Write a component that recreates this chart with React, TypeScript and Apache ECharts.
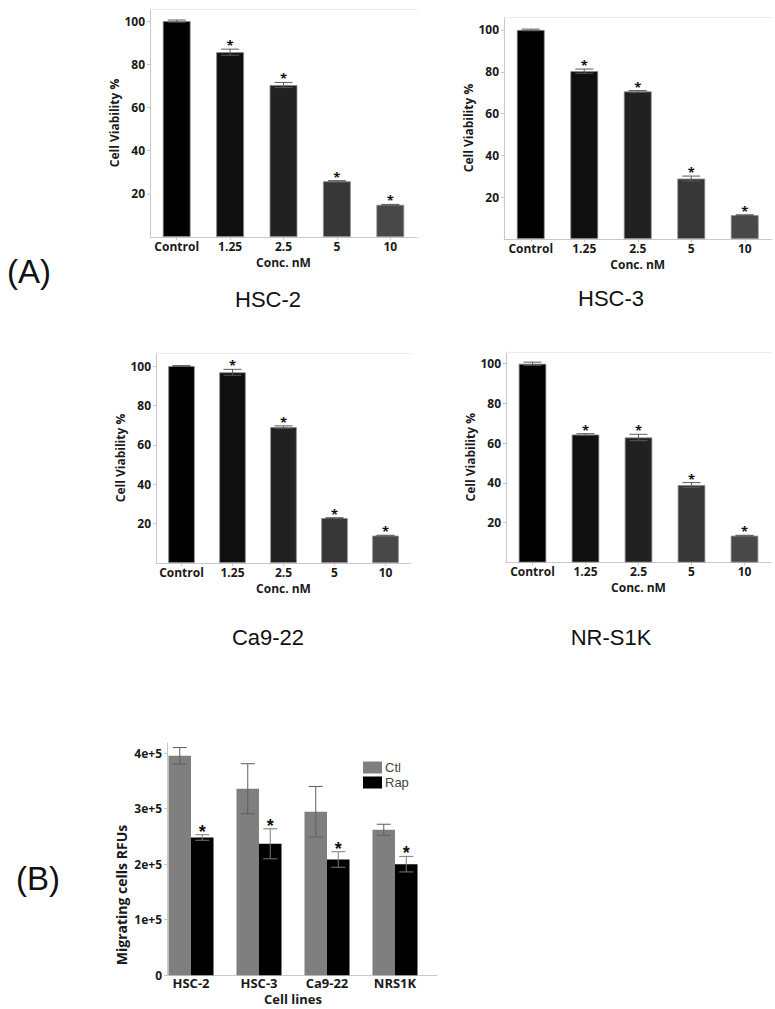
import React, { useEffect, useRef } from 'react';
import * as echarts from 'echarts';

// ---------- data ----------
const concLabels = ['Control', '1.25', '2.5', '5', '10'];
const viabilityTicks = [20, 40, 60, 80, 100];
const barShades = ['#000000', '#0f0f0f', '#212121', '#363636', '#484848'];
const significant = [false, true, true, true, true];

const hsc2Values = [100, 85.6, 70.4, 25.8, 14.9];
const hsc2Errors = [0.5, 1.4, 1.2, 0.3, 0.2];
const hsc3Values = [100, 80.3, 70.6, 28.9, 11.4];
const hsc3Errors = [0.4, 1.0, 0.4, 1.2, 0.2];
const ca922Values = [100, 96.8, 69.0, 22.8, 13.9];
const ca922Errors = [0.2, 1.5, 0.6, 0.2, 0.2];
const nrs1kValues = [100, 64.4, 62.9, 39.0, 13.5];
const nrs1kErrors = [0.8, 0.4, 1.6, 1.2, 0.2];

const cellLines = ['HSC-2', 'HSC-3', 'Ca9-22', 'NRS1K'];
const ctlValues = [395000, 335700, 294300, 261800];
const ctlErrors = [14800, 45000, 45500, 10000];
const rapValues = [248000, 236600, 208400, 200000];
const rapErrors = [5000, 27000, 14000, 14000];
const rapSignificant = [true, true, true, true];
const migTicks = [0, 100000, 200000, 300000, 400000];
const migTickLabels = ['0', '1e+5', '2e+5', '3e+5', '4e+5'];

// ---------- layout ----------
const panels = [
  { title: 'HSC-2', values: hsc2Values, errors: hsc2Errors, left: 150, top: 9, width: 267, height: 228, max: 105.6, tx: 268, ty: 299 },
  { title: 'HSC-3', values: hsc3Values, errors: hsc3Errors, left: 504, top: 17, width: 267.5, height: 222, max: 106.2, tx: 611, ty: 298 },
  { title: 'Ca9-22', values: ca922Values, errors: ca922Errors, left: 156, top: 353, width: 255, height: 210, max: 106.6, tx: 268, ty: 637 },
  { title: 'NR-S1K', values: nrs1kValues, errors: nrs1kErrors, left: 506, top: 352, width: 265, height: 210.5, max: 105.9, tx: 611, ty: 637 },
];

const BOLD = 'Open Sans';
const AXIS_COLOR = '#c8c8c8';
const TEXT_COLOR = '#1a1a1a';

function errorRenderer(offset: number, cap: number, color: string, starSize: number, starGap: number) {
  return (params: any, api: any) => {
    const x = api.value(0);
    const v = api.value(1);
    const e = api.value(2);
    const sig = api.value(3);
    const top = api.coord([x, v + e]);
    const bot = api.coord([x, v - e]);
    const cx = top[0] + offset;
    const children: any[] = [
      { type: 'line', shape: { x1: cx, y1: top[1], x2: cx, y2: bot[1] }, style: { stroke: color, lineWidth: 1 } },
      { type: 'line', shape: { x1: cx - cap, y1: top[1], x2: cx + cap, y2: top[1] }, style: { stroke: color, lineWidth: 1 } },
      { type: 'line', shape: { x1: cx - cap, y1: bot[1], x2: cx + cap, y2: bot[1] }, style: { stroke: color, lineWidth: 1 } },
    ];
    if (sig) {
      children.push({
        type: 'text',
        x: cx,
        y: top[1] - starGap,
        style: {
          text: '*',
          fill: '#111',
          font: `bold ${starSize}px ${starSize > 14 ? 'Liberation Sans' : BOLD}`,
          textAlign: 'center',
          textVerticalAlign: 'middle',
        },
      });
    }
    return { type: 'group', children };
  };
}

function buildOption() {
  const grid: any[] = [];
  const xAxis: any[] = [];
  const yAxis: any[] = [];
  const series: any[] = [];
  const graphic: any[] = [];

  panels.forEach((p, i) => {
    grid.push({ left: p.left, top: p.top, width: p.width, height: p.height, containLabel: false });
    xAxis.push({
      type: 'category',
      gridIndex: i,
      data: concLabels,
      name: 'Conc. nM',
      nameLocation: 'middle',
      nameGap: 19,
      nameTextStyle: { fontFamily: BOLD, fontWeight: 'bold', fontSize: 12, color: TEXT_COLOR, lineHeight: 12 },
      axisLine: { show: true, lineStyle: { color: AXIS_COLOR, width: 1 } },
      axisTick: { show: true, alignWithLabel: true, length: 3, lineStyle: { color: AXIS_COLOR } },
      axisLabel: { interval: 0, margin: 3, fontFamily: BOLD, fontWeight: 'bold', fontSize: 12, color: TEXT_COLOR, lineHeight: 12 },
      splitLine: { show: false },
    });
    xAxis.push({
      type: 'category',
      gridIndex: i,
      position: 'top',
      data: concLabels,
      axisLine: { show: true, lineStyle: { color: '#ececec', width: 1 } },
      axisTick: { show: false },
      axisLabel: { show: false },
      splitLine: { show: false },
    });
    yAxis.push({
      type: 'value',
      gridIndex: i,
      min: 0,
      max: p.max,
      name: 'Cell Viability %',
      nameLocation: 'middle',
      nameGap: 28,
      nameTextStyle: { fontFamily: BOLD, fontWeight: 'bold', fontSize: 12, color: TEXT_COLOR },
      axisLine: { show: true, lineStyle: { color: AXIS_COLOR, width: 1 } },
      axisTick: { show: true, length: 3, customValues: viabilityTicks, lineStyle: { color: AXIS_COLOR } },
      axisLabel: { margin: 5, customValues: viabilityTicks, fontFamily: BOLD, fontWeight: 'bold', fontSize: 12, color: TEXT_COLOR },
      splitLine: { show: false },
    });
    series.push({
      type: 'bar',
      xAxisIndex: 2 * i,
      yAxisIndex: i,
      barWidth: '52%',
      data: p.values.map((v, k) => ({
        value: v,
        itemStyle: { color: barShades[k], borderColor: '#8c8c8c', borderWidth: 0.8 },
      })),
      z: 2,
    });
    series.push({
      type: 'custom',
      xAxisIndex: 2 * i,
      yAxisIndex: i,
      renderItem: errorRenderer(0, 9, '#5a5a5a', 13, 4),
      data: p.values.map((v, k) => [k, v, p.errors[k], significant[k] ? 1 : 0]),
      z: 5,
    });
    graphic.push({
      type: 'text',
      x: p.tx,
      y: p.ty,
      style: {
        text: p.title,
        font: '22px "Liberation Sans", Arial, sans-serif',
        fill: '#111',
        textAlign: 'center',
        textVerticalAlign: 'middle',
      },
    });
  });

  // ----- panel B -----
  const bTop = 743;
  const bHeight = 232.3;
  const bMax = 418000;
  grid.push({ left: 157, top: bTop, width: 272, height: bHeight });
  grid.push({ left: 167, top: bTop, width: 270, height: bHeight });
  xAxis.push({
    type: 'category',
    gridIndex: 4,
    data: cellLines,
    name: 'Cell lines',
    nameLocation: 'middle',
    nameGap: 17,
    nameTextStyle: { fontFamily: BOLD, fontWeight: 'bold', fontSize: 13, color: TEXT_COLOR, lineHeight: 13 },
    axisLine: { show: false },
    axisTick: { show: false },
    axisLabel: { interval: 0, margin: 1, fontFamily: BOLD, fontWeight: 'bold', fontSize: 13, color: TEXT_COLOR, lineHeight: 13 },
    splitLine: { show: false },
  });
  xAxis.push({
    type: 'value',
    gridIndex: 5,
    min: 0,
    max: 1,
    axisLine: { show: true, lineStyle: { color: AXIS_COLOR, width: 1 } },
    axisTick: { show: false },
    axisLabel: { show: false },
    splitLine: { show: false },
  });
  yAxis.push({
    type: 'value',
    gridIndex: 4,
    min: 0,
    max: bMax,
    show: false,
    splitLine: { show: false },
  });
  yAxis.push({
    type: 'value',
    gridIndex: 5,
    min: 0,
    max: bMax,
    axisLine: { show: true, lineStyle: { color: AXIS_COLOR, width: 1 } },
    axisTick: { show: true, length: 3, customValues: migTicks, lineStyle: { color: AXIS_COLOR } },
    axisLabel: {
      margin: 5,
      customValues: migTicks,
      formatter: (v: number) => migTickLabels[migTicks.indexOf(v)] ?? '',
      fontFamily: BOLD,
      fontWeight: 'bold',
      fontSize: 12,
      color: TEXT_COLOR,
    },
    splitLine: { show: false },
  });
  series.push({
    name: 'Ctl',
    type: 'bar',
    xAxisIndex: 8,
    yAxisIndex: 4,
    barWidth: 22.5,
    barGap: '0%',
    itemStyle: { color: '#7f7f7f' },
    data: ctlValues,
    z: 2,
  });
  series.push({
    name: 'Rap',
    type: 'bar',
    xAxisIndex: 8,
    yAxisIndex: 4,
    barWidth: 22.5,
    barGap: '0%',
    itemStyle: { color: '#000000' },
    data: rapValues,
    z: 2,
  });
  series.push({
    type: 'custom',
    xAxisIndex: 8,
    yAxisIndex: 4,
    renderItem: errorRenderer(-11.25, 7, '#5e5e5e', 18, 3),
    data: ctlValues.map((v, k) => [k, v, ctlErrors[k], 0]),
    z: 5,
  });
  series.push({
    type: 'custom',
    xAxisIndex: 8,
    yAxisIndex: 4,
    renderItem: errorRenderer(11.25, 7, '#7a7a7a', 18, 3),
    data: rapValues.map((v, k) => [k, v, rapErrors[k], rapSignificant[k] ? 1 : 0]),
    z: 5,
  });

  graphic.push({
    type: 'text',
    x: 7,
    y: 271,
    style: { text: '(A)', font: '33px "Liberation Sans", Arial, sans-serif', fill: '#111', textVerticalAlign: 'middle' },
  });
  graphic.push({
    type: 'text',
    x: 16,
    y: 878,
    style: { text: '(B)', font: '33px "Liberation Sans", Arial, sans-serif', fill: '#111', textVerticalAlign: 'middle' },
  });
  graphic.push({
    type: 'text',
    x: 121,
    y: 895,
    rotation: Math.PI / 2,
    style: {
      text: 'Migrating cells RFUs',
      font: `bold 14px "${BOLD}"`,
      fill: TEXT_COLOR,
      textAlign: 'center',
      textVerticalAlign: 'middle',
    },
  });

  return {
    animation: false,
    backgroundColor: '#ffffff',
    grid,
    xAxis,
    yAxis,
    series,
    graphic,
    legend: {
      data: ['Ctl', 'Rap'],
      orient: 'vertical',
      left: 363,
      top: 761,
      itemWidth: 19,
      itemHeight: 12,
      itemGap: 2,
      icon: 'rect',
      padding: 0,
      selectedMode: false,
      textStyle: { fontFamily: 'Liberation Sans', fontSize: 13, color: '#444', padding: [0, 0, 0, -2] },
    },
  };
}

export default function App() {
  const ref = useRef<HTMLDivElement>(null);
  useEffect(() => {
    if (!ref.current) return;
    const chart = echarts.init(ref.current, undefined, { renderer: 'svg' });
    chart.setOption(buildOption() as any);
    return () => chart.dispose();
  }, []);
  return (
    <div
      ref={ref}
      style={{ position: 'fixed', left: 0, top: 0, width: 775, height: 1009, background: '#fff' }}
    />
  );
}
